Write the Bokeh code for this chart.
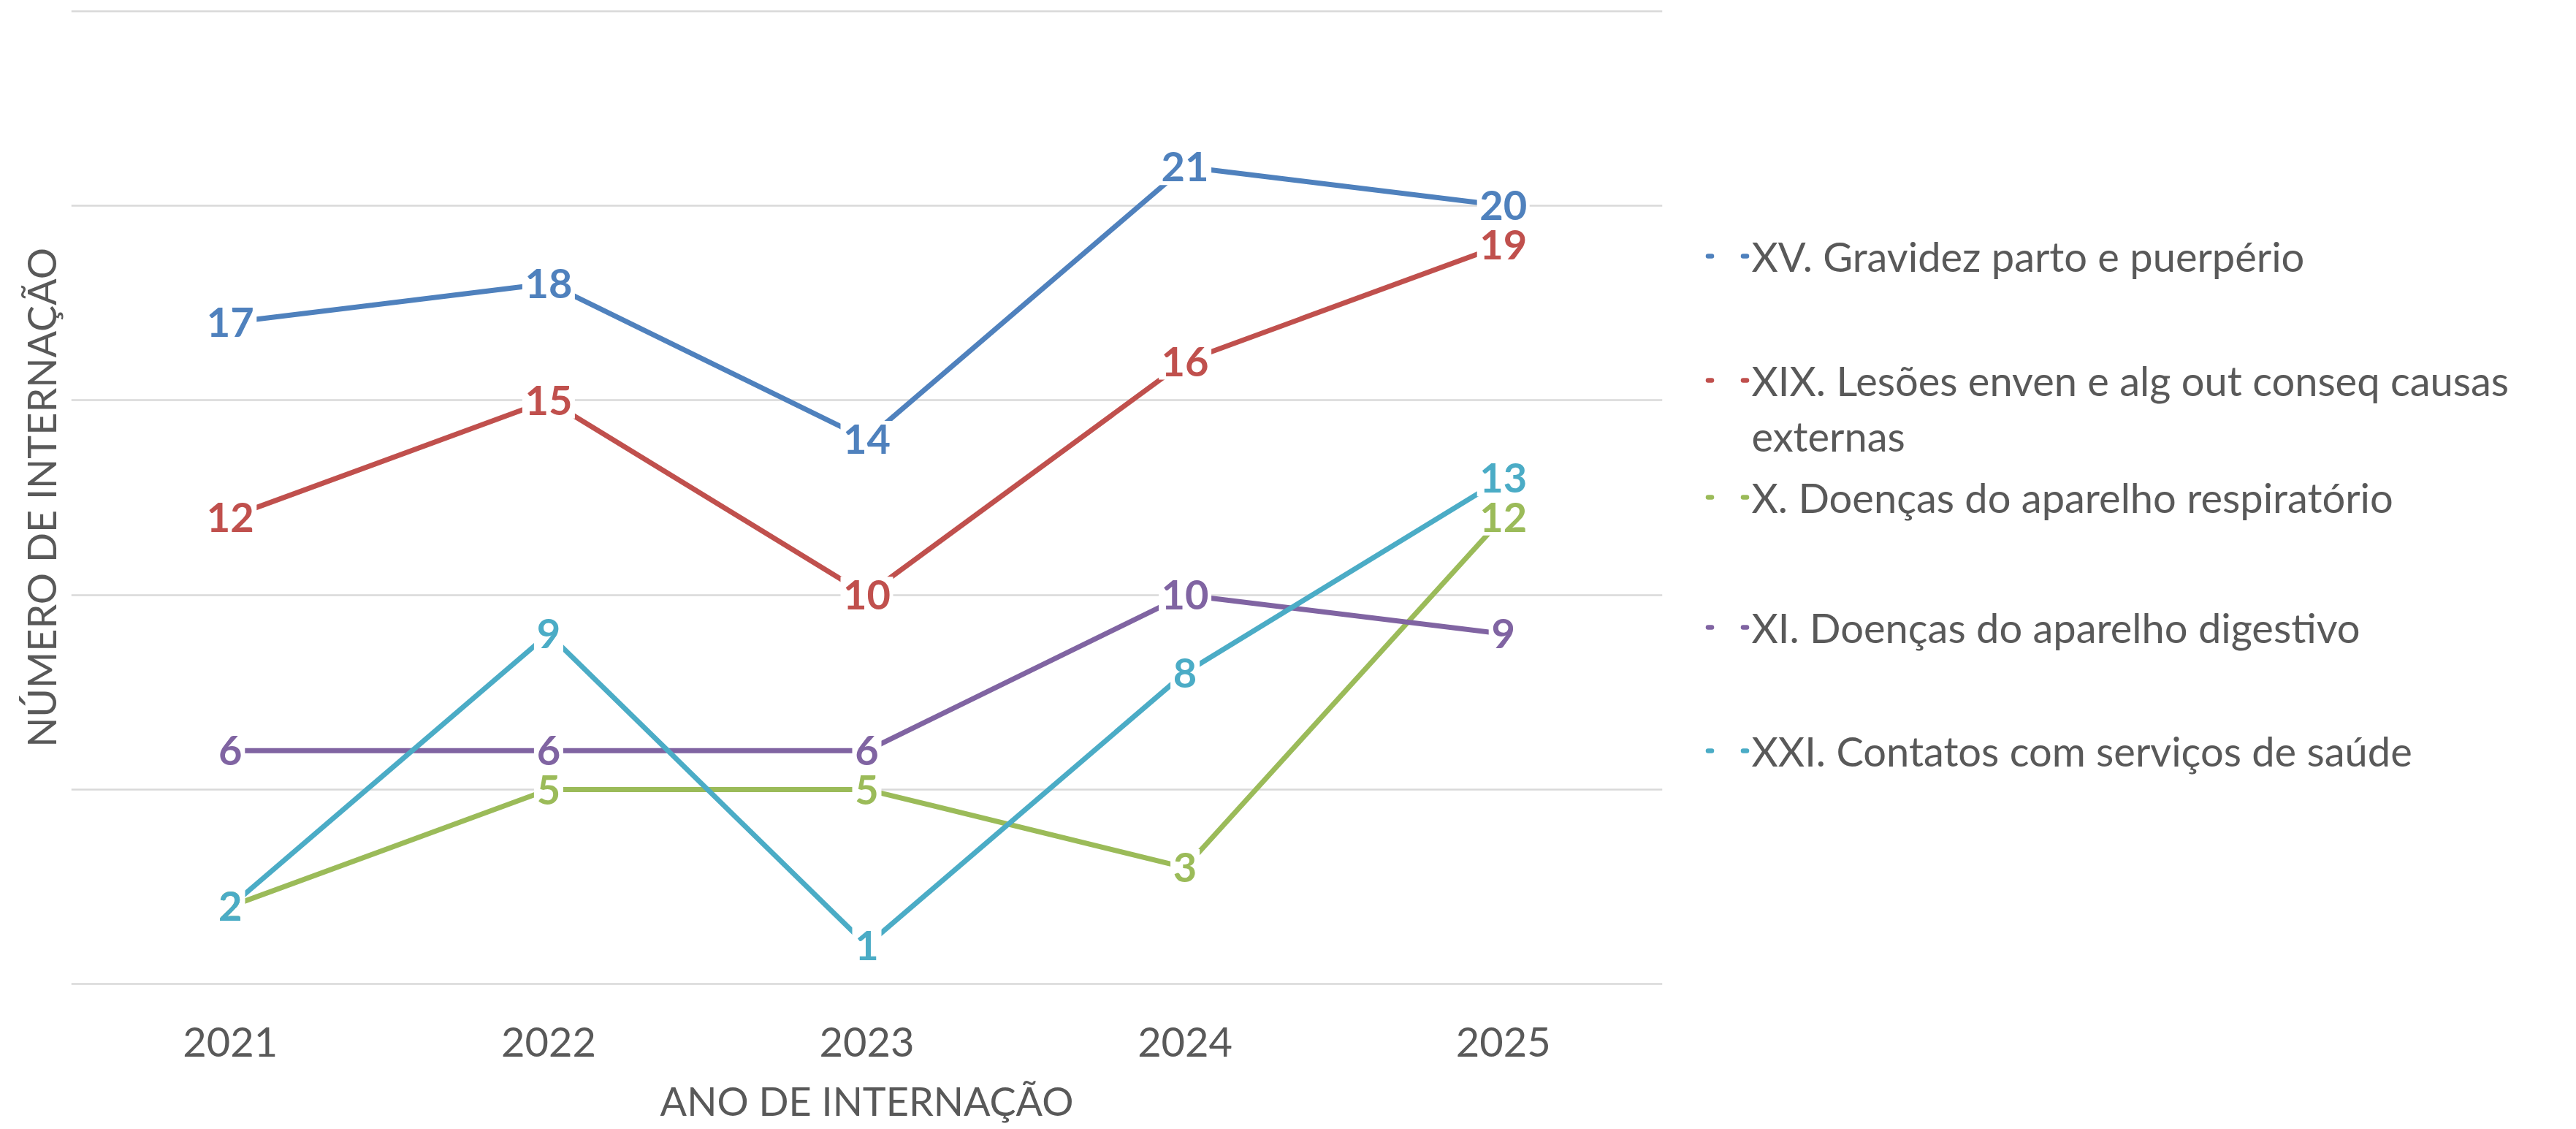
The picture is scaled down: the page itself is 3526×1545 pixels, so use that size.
from bokeh.plotting import figure
from bokeh.models import Range1d, FactorRange, ColumnDataSource, FixedTicker
from bokeh.layouts import row
from bokeh.embed import file_html
from bokeh.resources import INLINE
from bokeh.core.properties import value

# ---- data ----
years = ["2021", "2022", "2023", "2024", "2025"]
series_names = [
    "XV. Gravidez parto e puerpério",
    "XIX. Lesões enven e alg out conseq causas externas",
    "X. Doenças do aparelho respiratório",
    "XI. Doenças do aparelho digestivo",
    "XXI. Contatos com serviços de saúde",
]
xv_gravidez = [17, 18, 14, 21, 20]
xix_lesoes = [12, 15, 10, 16, 19]
x_respiratorio = [2, 5, 5, 3, 12]
xi_digestivo = [6, 6, 6, 10, 9]
xxi_contatos = [2, 9, 1, 8, 13]
series_values = [xv_gravidez, xix_lesoes, x_respiratorio, xi_digestivo, xxi_contatos]
colors = ["#4F81BD", "#C0504D", "#9BBB59", "#8064A2", "#4BACC6"]
y_ticks = [0, 5, 10, 15, 20, 25]

TXT = "#595959"
FONT = "Lato"

p = figure(
    x_range=FactorRange(*years),
    y_range=Range1d(-0.03, 25.03),
    width=2300, height=1545,
    output_backend="svg", toolbar_location=None,
    min_border_left=97, min_border_right=25,
    min_border_top=13, min_border_bottom=197,
)
p.outline_line_color = None
p.background_fill_color = "white"
p.border_fill_color = "white"
p.xgrid.grid_line_color = None
p.ygrid.ticker = FixedTicker(ticks=y_ticks)
p.ygrid.grid_line_color = "#D9D9D9"
p.ygrid.grid_line_width = 2.5

p.yaxis.ticker = FixedTicker(ticks=[])
p.yaxis.axis_line_color = None
p.yaxis.major_tick_line_color = None
p.yaxis.minor_tick_line_color = None
p.yaxis.major_label_standoff = 0
p.yaxis.axis_label = "NÚMERO DE INTERNAÇÃO"
p.yaxis.axis_label_text_font = FONT
p.yaxis.axis_label_text_font_size = "54px"
p.yaxis.axis_label_text_font_style = "normal"
p.yaxis.axis_label_text_color = TXT
p.yaxis.axis_label_standoff = 9

p.xaxis.axis_line_color = None
p.xaxis.major_tick_line_color = None
p.xaxis.minor_tick_line_color = None
p.xaxis.major_label_text_font = FONT
p.xaxis.major_label_text_font_size = "56px"
p.xaxis.major_label_text_color = TXT
p.xaxis.major_label_standoff = 51
p.xaxis.axis_label = "ANO DE INTERNAÇÃO"
p.xaxis.axis_label_text_font = FONT
p.xaxis.axis_label_text_font_size = "54px"
p.xaxis.axis_label_text_font_style = "normal"
p.xaxis.axis_label_text_color = TXT
p.xaxis.axis_label_standoff = 25

for vals, c in zip(series_values, colors):
    p.line(x=years, y=vals, line_color=c, line_width=7,
           line_join="round", line_cap="round")

# white knock-out behind each data label, then the labels
for vals in series_values:
    src = ColumnDataSource(dict(x=years, y=vals,
                                w=[8 + 32 * len(str(v)) for v in vals]))
    p.rect(x="x", y="y", width="w", height=50, source=src,
           width_units="screen", height_units="screen",
           fill_color="white", line_color=None)

for vals, c in zip(series_values, colors):
    src = ColumnDataSource(dict(x=years, y=vals, t=[str(v) for v in vals]))
    p.text(x="x", y="y", text="t", source=src,
           text_align="center", text_baseline="middle",
           text_font=value(FONT), text_font_style="bold",
           text_font_size="56px", text_color=c)

# ---- legend (separate panel, coordinates = page pixels) ----
leg = figure(
    width=1226, height=1545,
    x_range=Range1d(2300, 3526), y_range=Range1d(1545, 0),
    output_backend="svg", toolbar_location=None, min_border=0,
)
leg.frame_align = False
p.frame_align = False
leg.axis.visible = False
leg.grid.grid_line_color = None
leg.outline_line_color = None

leg_cap_centers = [350, 520, 680, 858, 1027]
leg_lines = [
    ["XV. Gravidez parto e puerpério"],
    ["XIX. Lesões enven e alg out conseq causas", "externas"],
    ["X. Doenças do aparelho respiratório"],
    ["XI. Doenças do aparelho digestivo"],
    ["XXI. Contatos com serviços de saúde"],
]
line_step = 76
for cy, lines, c in zip(leg_cap_centers, leg_lines, colors):
    leg.segment(x0=[2337.5, 2385.5], y0=[cy, cy], x1=[2342.5, 2390.5], y1=[cy, cy],
                line_color=c, line_width=6.5, line_cap="round")
    ys = [cy + i * line_step for i in range(len(lines))]
    leg.text(x=[2397] * len(lines), y=ys, text=lines,
             text_align="left", text_baseline="middle",
             text_font=value(FONT), text_font_size="56px", text_color=TXT)

layout = row(p, leg)
open("out.html", "w").write(file_html(layout, INLINE))
